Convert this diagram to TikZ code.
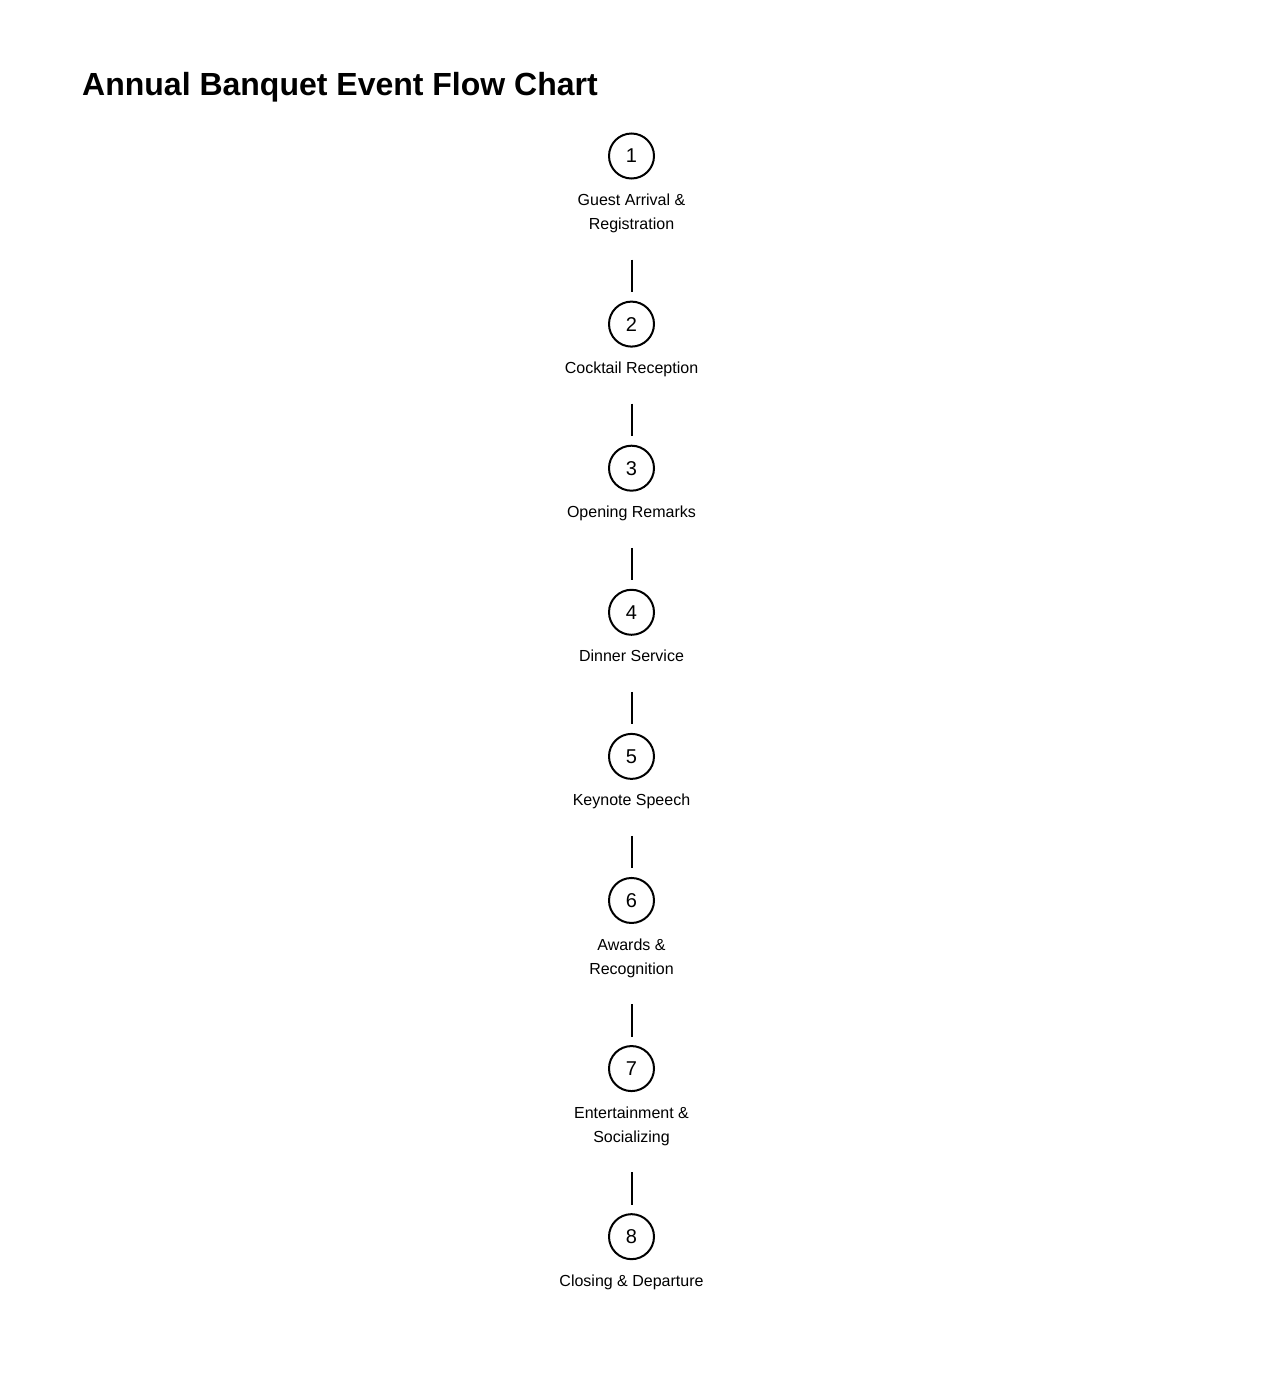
\documentclass[tikz,border=0pt]{standalone}
\usepackage{fontspec}
\setmainfont{Liberation Sans}
\usetikzlibrary{positioning}
\begin{document}
\begin{tikzpicture}[x=1pt,y=1pt,
        stepnode/.style={circle,draw,line width=2pt,minimum size=45pt,inner sep=0pt,font=\fontsize{20}{24}\selectfont},
        steptext/.style={inner sep=0pt,outer sep=0pt,align=center,text depth=4pt,font=\fontsize{16}{24}\selectfont},
        link/.style={line width=2pt,shorten <=26pt,shorten >=8.5pt},
        node distance=14.5pt]
    \useasboundingbox (0,0) rectangle (1263,-1376);
    \node [anchor=base west,inner sep=0pt,font=\bfseries\fontsize{32}{38}\selectfont] (title) at (82,-95) {Annual Banquet Event Flow Chart};
    % steps
    \node [stepnode] (s1) at (631.5,-156) {1};
    \node [steptext,below=of s1] (t1) {Guest Arrival \&\\Registration};
    \node [stepnode,below=67pt of t1] (s2) {2};
    \node [steptext,below=of s2] (t2) {Cocktail Reception};
    \node [stepnode,below=67pt of t2] (s3) {3};
    \node [steptext,below=of s3] (t3) {Opening Remarks};
    \node [stepnode,below=67pt of t3] (s4) {4};
    \node [steptext,below=of s4] (t4) {Dinner Service};
    \node [stepnode,below=67pt of t4] (s5) {5};
    \node [steptext,below=of s5] (t5) {Keynote Speech};
    \node [stepnode,below=67pt of t5] (s6) {6};
    \node [steptext,below=of s6] (t6) {Awards \&\\Recognition};
    \node [stepnode,below=67pt of t6] (s7) {7};
    \node [steptext,below=of s7] (t7) {Entertainment \&\\Socializing};
    \node [stepnode,below=67pt of t7] (s8) {8};
    \node [steptext,below=of s8] (t8) {Closing \& Departure};
    % connectors
    \draw [link] (t1.south) -- (s2.north);
    \draw [link] (t2.south) -- (s3.north);
    \draw [link] (t3.south) -- (s4.north);
    \draw [link] (t4.south) -- (s5.north);
    \draw [link] (t5.south) -- (s6.north);
    \draw [link] (t6.south) -- (s7.north);
    \draw [link] (t7.south) -- (s8.north);
\end{tikzpicture}
\end{document}
